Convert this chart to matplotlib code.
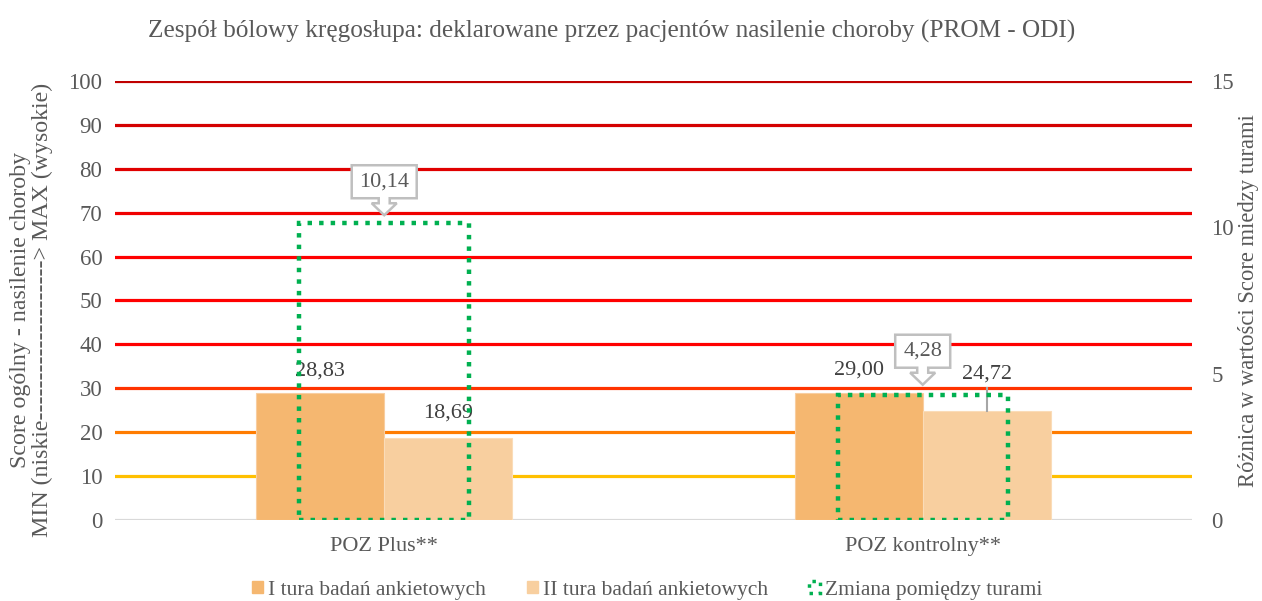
import matplotlib.pyplot as plt
import matplotlib.patches as mpatches
import matplotlib.transforms as mtransforms
import numpy as np

categories = ['POZ Plus**', 'POZ kontrolny**']
tura_1 = [28.83, 29.00]
tura_2 = [18.69, 24.72]
zmiana = [10.14, 4.28]
grid_values = [0, 10, 20, 30, 40, 50, 60, 70, 80, 90, 100]
grid_colors = ['#D9D9D9', '#FFC000', '#FF7C00', '#FF3300', '#FF0000', '#FF0000',
               '#FF0000', '#F00000', '#E00000', '#D40000', '#C00000']

plt.rcParams['font.family'] = ['Liberation Serif', 'DejaVu Serif']
txt = '#595959'
lab = '#404040'

fig = plt.figure(figsize=(12.62, 6.01), dpi=100)
ax = fig.add_axes([0.0911, 0.1348, 0.8534, 0.7304])
ax2 = ax.twinx()

x = np.arange(len(categories))
w = 0.238

# coloured horizontal grid lines
for v, c in zip(grid_values, grid_colors):
    ax.axhline(v, color=c, lw=2.3, zorder=1)

ax.bar(x - w / 2, tura_1, w, color='#F5B770', edgecolor='#F8CDA0', lw=0.8, zorder=2)
ax.bar(x + w / 2, tura_2, w, color='#F8CF9F', edgecolor='#FADCB8', lw=0.8, zorder=2)

ax.set_xlim(-0.5, 1.5)
ax.set_ylim(0, 100)
ax.set_yticks(grid_values)
ax.set_xticks(x)
ax.set_xticklabels(categories)
ax.tick_params(axis='y', length=0, labelsize=16.5, colors=txt, pad=9)
ax.tick_params(axis='x', length=0, labelsize=16, colors=txt, pad=12)
for s in ax.spines.values():
    s.set_visible(False)
ax.set_ylabel('Score ogólny - nasilenie choroby\nMIN (niskie--------------------> MAX (wysokie)',
              fontsize=17.2, color=txt, labelpad=11, linespacing=1.05)
ax.yaxis.label.set_y(0.478)

# data labels for bars
def fmt(v):
    return f'{v:.2f}'.replace('.', ',')

for i in range(len(categories)):
    ax.text(x[i] - w / 2, tura_1[i] + 5.2, fmt(tura_1[i]), ha='center', va='center',
            fontsize=16, color=lab, zorder=5)
ax.text(x[0] + w / 2, tura_2[0] + 5.7, fmt(tura_2[0]), ha='center', va='center',
        fontsize=16, color=lab, zorder=5)
ax.text(x[1] + w / 2, tura_2[1] + 8.6, fmt(tura_2[1]), ha='center', va='center',
        fontsize=16, color=lab, zorder=5)
ax.plot([x[1] + w / 2, x[1] + w / 2], [tura_2[1], 30], color='#A6A6A6', lw=1.5, zorder=5)

# change between rounds on secondary axis
ax2.bar(x, zmiana, 0.316, fill=False, edgecolor='#00B050', lw=3.2, linestyle=(0, (1, 1.6)), zorder=4)
ax2.set_ylim(0, 15)
ax2.set_yticks([0, 5, 10, 15])
ax2.tick_params(axis='y', length=0, labelsize=16.5, colors=txt, pad=14)
for s in ax2.spines.values():
    s.set_visible(False)
ax2.set_ylabel('Różnica w wartości Score miedzy turami', fontsize=16.3, color=txt, labelpad=3)

# callouts (box with downward arrow), shape in pixels relative to tip
callout_w = [65, 55]
tip_gap = [8, 10]
for i in range(len(categories)):
    tr = mtransforms.Affine2D().translate(0, tip_gap[i]) + \
        mtransforms.ScaledTranslation(x[i], zmiana[i], ax2.transData)
    W, H = callout_w[i] / 2, 33
    verts = [(0, 0), (12.5, 12), (5.5, 12), (5.5, 17), (W, 17), (W, 17 + H), (-W, 17 + H),
             (-W, 17), (-5.5, 17), (-5.5, 12), (-12.5, 12)]
    poly = mpatches.Polygon(verts, closed=True, fc='white', ec='#BFBFBF', lw=1.8,
                            transform=tr, zorder=6, clip_on=False)
    ax2.add_patch(poly)
    ax2.text(0, 17 + H / 2, fmt(zmiana[i]), transform=tr, ha='center', va='center',
             fontsize=16, color=txt, zorder=7)

fig.text(0.4846, 0.948, 'Zespół bólowy kręgosłupa: deklarowane przez pacjentów nasilenie choroby (PROM - ODI)',
         ha='center', va='center', fontsize=18.2, color=txt)

handles = [mpatches.Patch(color='#F5B770', label='I tura badań ankietowych'),
           mpatches.Patch(color='#F8CF9F', label='II tura badań ankietowych'),
           mpatches.Patch(fill=False, edgecolor='#00B050', lw=2.5, linestyle=':', label='Zmiana pomiędzy turami')]
leg = fig.legend(handles=handles, loc='center', bbox_to_anchor=(0.513, 0.018), ncol=3,
                 frameon=False, fontsize=15.5, handlelength=0.5, handleheight=0.5,
                 handletextpad=0.25, columnspacing=1.9, borderpad=0)
for t in leg.get_texts():
    t.set_color(txt)

fig.savefig('out.png', dpi=100)
